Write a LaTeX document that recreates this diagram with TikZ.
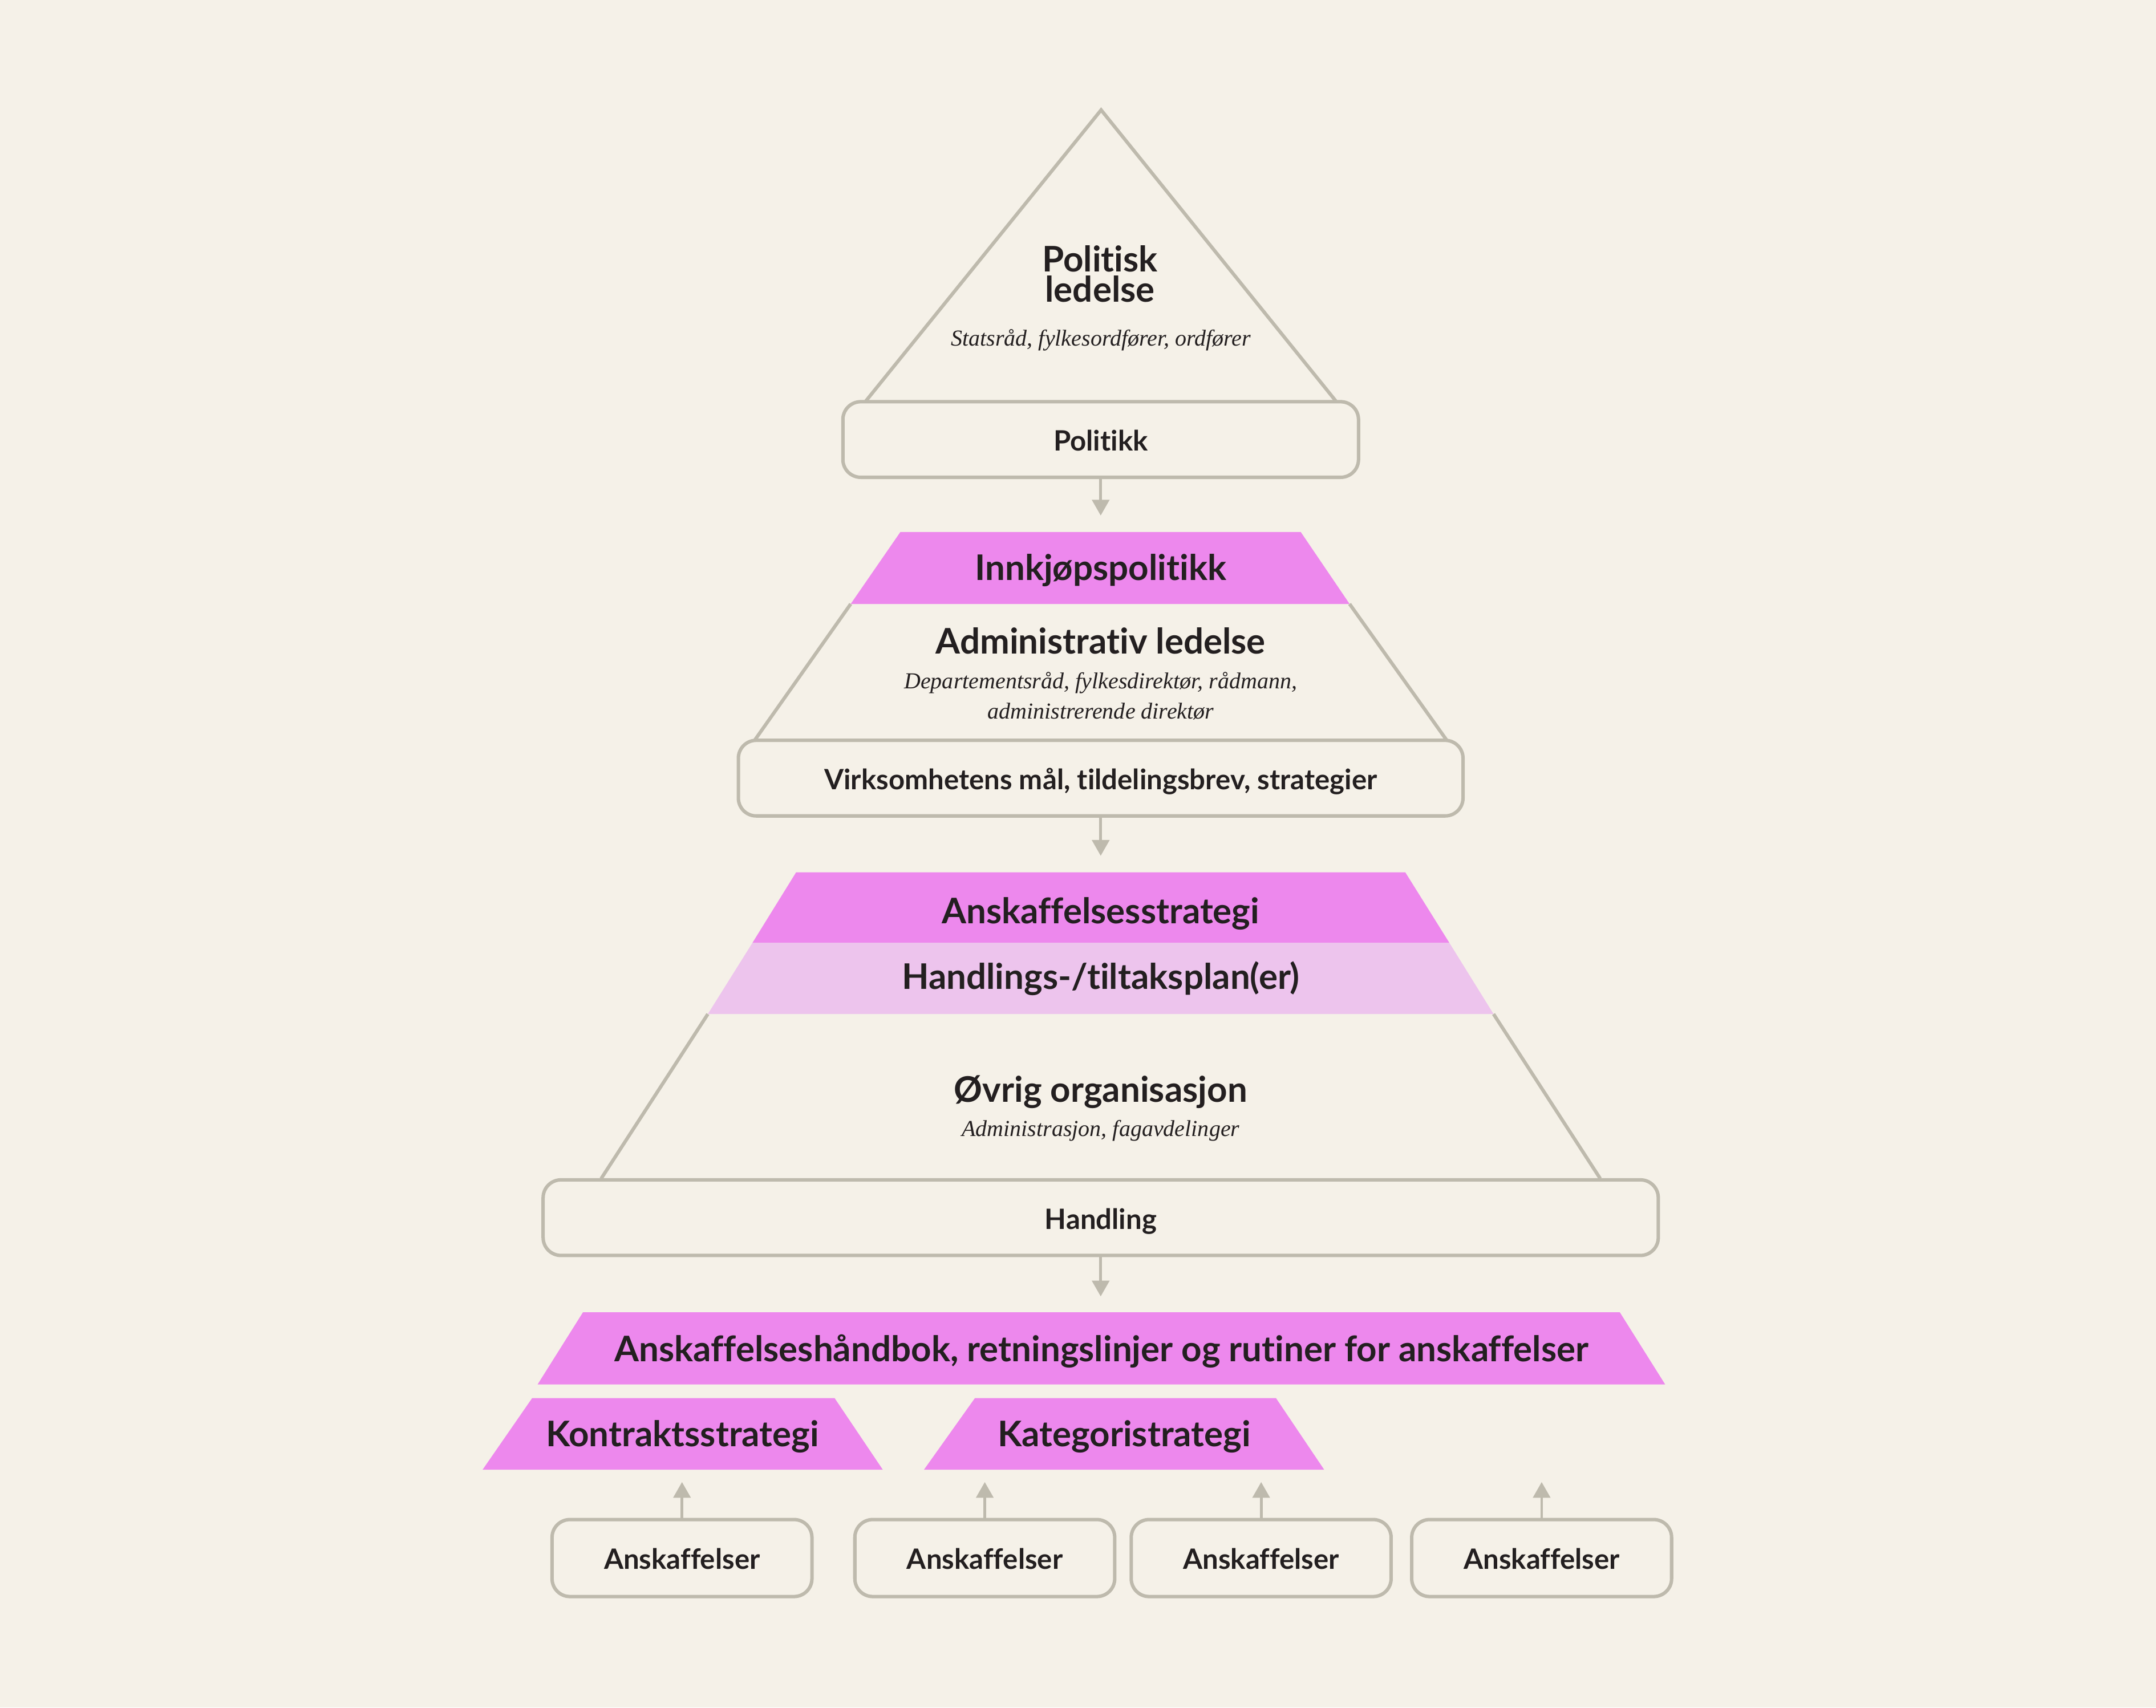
\documentclass[tikz,border=0pt]{standalone}
\usepackage{fontspec}
\setmainfont[Ligatures=NoCommon]{Lato}
\newfontfamily\notefont{Liberation Serif}
\usetikzlibrary{arrows.meta}
\definecolor{paper}{HTML}{F5F1E8}
\definecolor{rulec}{HTML}{BEBAAD}
\definecolor{pinkc}{HTML}{ED88ED}
\definecolor{lightpinkc}{HTML}{EDC4ED}
\definecolor{inkc}{HTML}{231F20}
\tikzset{
  tier/.style     = {font=\fontsize{14.6}{12.5}\selectfont\bfseries, text=inkc,
                     anchor=base, inner sep=0pt},
  subnote/.style  = {font=\notefont\itshape\fontsize{9.45}{11}\selectfont, text=inkc,
                     anchor=base, inner sep=0pt},
  box/.style      = {shape=rectangle, rounded corners=2.6mm, draw=rulec,
                     line width=0.5mm, fill=paper, inner sep=0pt,
                     minimum height=11mm, text height=3.3mm, text depth=0pt,
                     font=\fontsize{11.6}{13}\selectfont\bfseries, text=inkc},
  sideline/.style = {draw=rulec, line width=0.5mm},
  pinkfill/.style = {fill=pinkc},
  flow/.style     = {draw=rulec, line width=0.4mm,
                     -{Triangle[length=2.3mm,width=2.5mm]}}
}
\begin{document}
\begin{tikzpicture}
 [x=0.2mm, y=-0.2mm]

  \fill[paper] (0,0) rectangle (1568,1242);
  \useasboundingbox (0,0) rectangle (1568,1242);

  % politisk ledelse
  \draw[sideline] (629.7,291.7) -- (800.8,80) -- (971.5,291.7);
  \node[tier, align=center, anchor=south] (politisk) at (800,220.3) {Politisk\\ledelse};
  \node[subnote] (statsrad) at (800.7,251.5) {Statsråd, fylkesordfører, ordfører};
  \node[box, minimum width=75mm] (politikk) at (800.5,319.7) {Politikk};

  % administrativ ledelse
  \draw[sideline] (618.7,439.3) -- (548.8,538.5);
  \draw[sideline] (981.5,439.3) -- (1052.2,538.5);
  \fill[pinkfill] (654.8,387) -- (946,387) -- (981.5,439.3) -- (618.7,439.3) -- cycle;
  \coordinate (innkjop top) at (800.5,387);
  \node[tier] (innkjop) at (800.5,422.2) {Innkjøpspolitikk};
  \node[tier] (admin) at (800.5,475.5) {Administrativ ledelse};
  \node[subnote] (depart) at (800.5,500.7) {Departementsråd, fylkesdirektør, rådmann,};
  \node[subnote] (direktor) at (800.5,523) {administrerende direktør};
  \node[box, minimum width=105.4mm] (maal) at (800.5,566)
    {Virksomhetens mål, tildelingsbrev, strategier};

  % øvrig organisasjon
  \draw[sideline] (514.8,737.6) -- (437.2,857.3);
  \draw[sideline] (1086.2,737.6) -- (1163.8,857.3);
  \fill[pinkfill] (579,634.5) -- (1022,634.5) -- (1054,685.7) -- (547.3,685.7) -- cycle;
  \fill[lightpinkc] (547.3,685.7) -- (1054,685.7) -- (1086.2,737.6) -- (514.8,737.6) -- cycle;
  \coordinate (strategi top) at (800.5,634.5);
  \node[tier] (strategi) at (800.5,671.8) {Anskaffelsesstrategi};
  \node[tier] (plan) at (800.5,719.4) {Handlings-/tiltaksplan(er)};
  \node[tier] (ovrig) at (800.5,801.8) {Øvrig organisasjon};
  \node[subnote] (fag) at (800.5,826.6) {Administrasjon, fagavdelinger};
  \node[box, minimum width=162.2mm] (handling) at (800.5,885.7) {Handling};

  % rutiner og strategier
  \fill[pinkfill] (424,954.5) -- (1178,954.5) -- (1211,1007) -- (391,1007) -- cycle;
  \coordinate (rutiner top) at (800.5,954.5);
  \node[tier] (rutiner) at (801,990.5)
    {Anskaffelseshåndbok, retningslinjer og rutiner for anskaffelser};
  \fill[pinkfill] (387,1017) -- (607,1017) -- (642,1069) -- (351,1069) -- cycle;
  \fill[pinkfill] (709,1017) -- (928,1017) -- (963,1069) -- (672,1069) -- cycle;
  \node[tier] (kontrakt) at (496.3,1052) {Kontraktsstrategi};
  \node[tier] (kategori) at (817.6,1052) {Kategoristrategi};
  \coordinate (foot1) at (496,1069);
  \coordinate (foot2) at (716.2,1069);
  \coordinate (foot3) at (917.2,1069);
  \coordinate (foot4) at (1121.2,1069);

  \foreach \x [count=\i] in {496,716.2,917.2,1121.2}
    \node[box, minimum width=37.8mm, minimum height=11.2mm] (ansk\i) at (\x,1133.3) {Anskaffelser};

  % piler
  \draw[flow, shorten >=2.4mm] (politikk) -- (innkjop top);
  \draw[flow, shorten >=2.4mm] (maal) -- (strategi top);
  \draw[flow, shorten >=2.3mm] (handling) -- (rutiner top);
  \foreach \i in {1,...,4}
    \draw[flow, shorten >=1.8mm] (ansk\i) -- (foot\i);
\end{tikzpicture}
\end{document}
